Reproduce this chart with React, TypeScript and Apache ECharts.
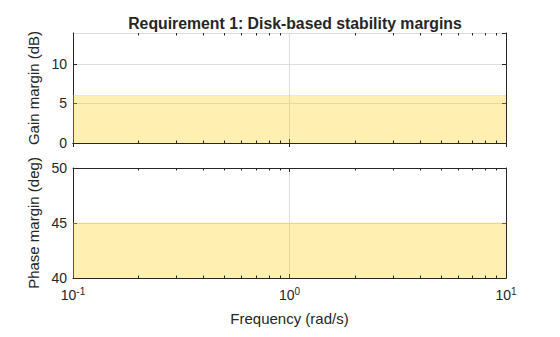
import React, { useEffect, useRef } from "react";
import * as echarts from "echarts";

const frequencies = [0.1, 10];
const gainBound = [6, 6];
const phaseBound = [45, 45];
const minorTicks = [0.2, 0.3, 0.4, 0.5, 0.6, 0.7, 0.8, 0.9, 2, 3, 4, 5, 6, 7, 8, 9];
const xTickExponents: Record<string, string> = { "0.1": "-1", "1": "0", "10": "1" };

const TXT = "#262626";
const FONT = "Liberation Sans, Arial, sans-serif";
const FILL = "rgba(255,204,0,0.3)";
const GRIDC = "#dedede";

export default function App() {
  const ref = useRef<HTMLDivElement>(null);
  useEffect(() => {
    const chart = echarts.init(ref.current!, undefined, { renderer: "svg" });
    const xBase = (gi: number, pos: "top" | "bottom", labels: boolean, name?: string) => ({
      type: "log" as const,
      gridIndex: gi,
      position: pos,
      min: 0.1,
      max: 10,
      logBase: 10,
      axisLine: { show: true, lineStyle: { color: TXT, width: 1 } },
      axisTick: { show: true, inside: true, length: 4, lineStyle: { color: TXT } },
      splitLine: { show: pos === "bottom", lineStyle: { color: GRIDC, width: 1 } },
      axisLabel: labels
        ? {
            show: true,
            margin: 8,
            formatter: (v: number) => {
              const e = xTickExponents[String(+v.toPrecision(3))] ?? "";
              return `{b|10}{s|${e}}`;
            },
            rich: {
              b: { fontSize: 14, color: TXT, fontFamily: FONT },
              s: { fontSize: 10, color: TXT, fontFamily: FONT, padding: [0, 0, 8, 0] },
            },
          }
        : { show: false },
      name: name,
      nameLocation: "middle" as const,
      nameGap: 33,
      nameTextStyle: { fontSize: 15, color: TXT, fontFamily: FONT },
    });
    const yBase = (
      gi: number,
      pos: "left" | "right",
      min: number,
      max: number,
      name?: string
    ) => ({
      type: "value" as const,
      gridIndex: gi,
      position: pos,
      min,
      max,
      interval: 5,
      axisLine: { show: true, lineStyle: { color: TXT, width: 1 } },
      axisTick: { show: true, inside: true, length: 4, lineStyle: { color: TXT } },
      splitLine: { show: pos === "left", lineStyle: { color: GRIDC, width: 1 } },
      axisLabel:
        pos === "left"
          ? { show: true, margin: 6, fontSize: 14, color: TXT, fontFamily: FONT, showMaxLabel: max % 5 === 0 }
          : { show: false },
      name,
      nameLocation: "middle" as const,
      nameGap: 26,
      nameTextStyle: { fontSize: 15, color: TXT, fontFamily: FONT },
    });
    const minorSeries = (gi: number, yv: number) => ({
      type: "custom" as const,
      xAxisIndex: gi * 2,
      yAxisIndex: gi * 2,
      clip: false,
      silent: true,
      z: 5,
      data: minorTicks.map((v) => [v, yv]),
      renderItem: (params: any, api: any) => {
        const cs = params.coordSys;
        const x = Math.round(api.coord([api.value(0), api.value(1)])[0]) + 0.5;
        const yb = cs.y + cs.height;
        const yt = cs.y;
        return {
          type: "group",
          children: [
            { type: "line", shape: { x1: x, y1: yb, x2: x, y2: yb - 2.5 }, style: { stroke: TXT, lineWidth: 1 } },
            { type: "line", shape: { x1: x, y1: yt, x2: x, y2: yt + 2.5 }, style: { stroke: TXT, lineWidth: 1 } },
          ],
        };
      },
    });
    chart.setOption({
      animation: false,
      title: {
        text: "Requirement 1: Disk-based stability margins",
        left: 290,
        top: 10,
        textAlign: "center",
        textStyle: { fontSize: 15.8, fontWeight: "bold", color: TXT, fontFamily: FONT },
      },
      grid: [
        { left: 73, top: 33, width: 433, height: 110 },
        { left: 73, top: 168, width: 433, height: 110 },
      ],
      xAxis: [
        xBase(0, "bottom", false),
        xBase(0, "top", false),
        xBase(1, "bottom", true, "Frequency (rad/s)"),
        xBase(1, "top", false),
      ],
      yAxis: [
        yBase(0, "left", 0, 13.9, "Gain margin (dB)"),
        yBase(0, "right", 0, 13.9),
        yBase(1, "left", 40, 50, "Phase margin (deg)"),
        yBase(1, "right", 40, 50),
      ],
      series: [
        {
          type: "line",
          xAxisIndex: 0,
          yAxisIndex: 0,
          data: frequencies.map((f, i) => [f, gainBound[i]]),
          symbol: "none",
          lineStyle: { color: FILL, width: 1 },
          areaStyle: { color: FILL, origin: "start", opacity: 1 },
          silent: true,
        },
        {
          type: "line",
          xAxisIndex: 2,
          yAxisIndex: 2,
          data: frequencies.map((f, i) => [f, phaseBound[i]]),
          symbol: "none",
          lineStyle: { color: FILL, width: 1 },
          areaStyle: { color: FILL, origin: "start", opacity: 1 },
          silent: true,
        },
        minorSeries(0, 0),
        minorSeries(1, 40),
      ],
    });
    return () => chart.dispose();
  }, []);
  return <div ref={ref} style={{ width: 560, height: 337, position: "absolute", left: 0, top: 0 }} />;
}
